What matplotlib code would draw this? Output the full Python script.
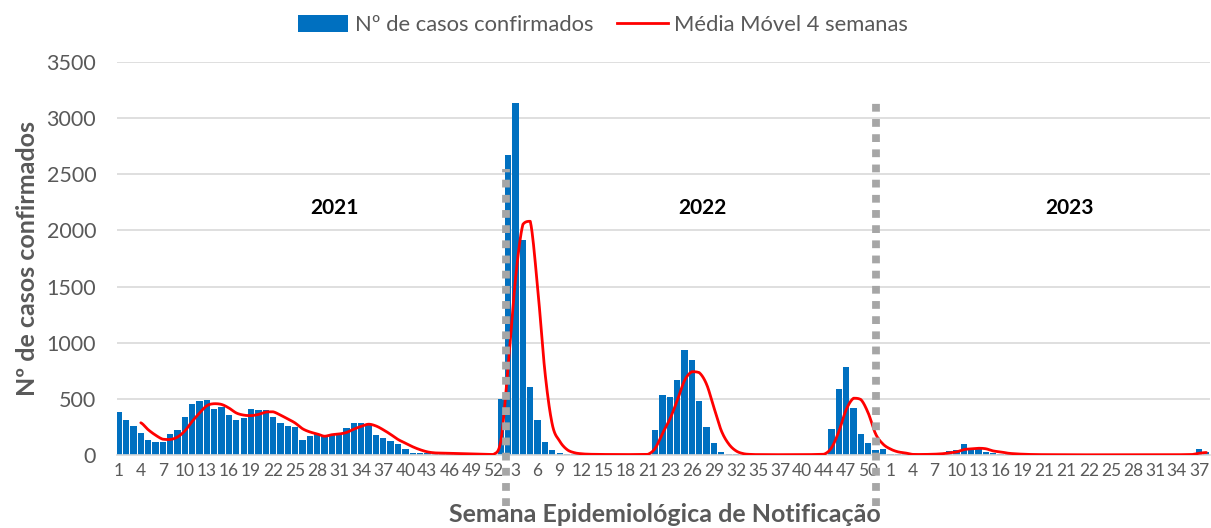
import numpy as np
import pandas as pd
import matplotlib
matplotlib.use("Agg")
import matplotlib.pyplot as plt
from matplotlib.lines import Line2D
from matplotlib.patches import Patch

# ---------------- data ----------------
cases_2021 = [382, 312, 257, 197, 136, 118, 112, 185, 227, 336, 452, 482, 488,
              406, 424, 355, 312, 330, 406, 397, 397, 339, 288, 261, 252, 136,
              173, 190, 170, 190, 199, 244, 289, 289, 275, 182, 152, 125, 95,
              51, 22, 21, 18, 15, 14, 14, 12, 10, 8, 5, 3, 2]
cases_2022 = [500, 2670, 3135, 1913, 607, 311, 119, 45, 20, 10, 7, 6, 5, 5, 4,
              4, 4, 4, 5, 6, 8, 220, 537, 513, 672, 935, 847, 479, 253, 103, 30,
              9, 5, 4, 3, 3, 3, 3, 3, 3, 3, 4, 5, 8, 12, 235, 588, 784, 416, 184,
              104, 45]
cases_2023 = [57, 8, 5, 5, 5, 4, 8, 12, 20, 33, 45, 95, 45, 55, 27, 18, 12, 8, 5,
              4, 3, 3, 3, 3, 2, 2, 2, 2, 2, 2, 2, 2, 2, 2, 2, 2, 2, 2, 3, 3, 3,
              4, 5, 50, 30]

tick_labels = ["1", "4", "7", "10", "13", "16", "19", "22", "25", "28", "31",
               "34", "37", "40", "43", "46", "49", "52",
               "3", "6", "9", "12", "15", "18", "21", "23", "26", "29", "32",
               "35", "37", "40", "44", "47", "50",
               "1", "4", "7", "10", "13", "16", "19", "21", "21", "22", "25",
               "28", "31", "34", "37"]
years = ["2021", "2022", "2023"]
year_x = [29.3, 79.4, 129.4]
year_y = 2200
# year separators (position, bottom, top)
sep_x = [52.7, 103.1]
sep_top = [2550, 3160]
sep_bottom = -450

series_bar = "Nº de casos confirmados"
series_line = "Média Móvel 4 semanas"

# ---------------- derived ----------------
cases = np.array(cases_2021 + cases_2022 + cases_2023, dtype=float)
xpos = np.arange(len(cases))
ma = pd.Series(cases).rolling(4).mean().to_numpy()


def smooth_curve(xs, ys, n=16):
    """Excel-like smoothed line (Bezier through points, limited overshoot)."""
    px = np.concatenate([[2 * xs[0] - xs[1]], xs, [2 * xs[-1] - xs[-2]]])
    py = np.concatenate([[ys[0]], ys, [ys[-1]]])
    ox, oy = [], []
    t = np.linspace(0, 1, n, endpoint=False)
    for i in range(1, len(px) - 2):
        x0, x1, x2, x3 = px[i - 1:i + 3]
        y0, y1, y2, y3 = py[i - 1:i + 3]
        cx1, cx2 = x1 + (x2 - x0) / 6, x2 - (x3 - x1) / 6
        cy1, cy2 = y1 + (y2 - y0) / 6, y2 - (y3 - y1) / 6
        lo, hi = min(y1, y2), max(y1, y2)
        cy1, cy2 = np.clip(cy1, lo, hi), np.clip(cy2, lo, hi)
        b = [(1 - t) ** 3, 3 * (1 - t) ** 2 * t, 3 * (1 - t) * t ** 2, t ** 3]
        ox.extend(b[0] * x1 + b[1] * cx1 + b[2] * cx2 + b[3] * x2)
        oy.extend(b[0] * y1 + b[1] * cy1 + b[2] * cy2 + b[3] * y2)
    ox.append(xs[-1])
    oy.append(ys[-1])
    return np.array(ox), np.array(oy)


valid = ~np.isnan(ma)
sx, sy = smooth_curve(xpos[valid].astype(float), ma[valid])

# ---------------- plot ----------------
FONT = "Lato"
GRAY = "#595959"
plt.rcParams["font.family"] = [FONT, "DejaVu Sans"]

W, H = 1211, 528
fig = plt.figure(figsize=(W / 100, H / 100), dpi=100)
ax = fig.add_axes([117 / W, (H - 455) / H, (1210 - 117) / W, (455 - 62) / H])

ax.bar(xpos, cases, width=0.86, color="#0070C0", zorder=2)
ax.plot(sx, sy, color="#FF0000", lw=2.0, zorder=4, solid_capstyle="round")

for xs_, top in zip(sep_x, sep_top):
    ax.plot([xs_, xs_], [sep_bottom, top], color="#A6A6A6", lw=5.6,
            linestyle=(0, (1.0, 0.95)), dash_capstyle="butt", zorder=5,
            clip_on=False)

for yr, xx in zip(years, year_x):
    ax.text(xx, year_y, yr, ha="center", va="center", fontsize=15,
            fontweight="bold", color="black")

ax.set_xlim(-0.24, 148.5)
ax.set_ylim(0, 3500)
ax.set_yticks(np.arange(0, 3501, 500))
ax.set_xticks(np.arange(0, 3 * len(tick_labels), 3))
ax.set_xticklabels(tick_labels)
ax.tick_params(axis="x", length=0, labelsize=12.5, labelcolor=GRAY, pad=6)
ax.tick_params(axis="y", length=0, labelsize=15.5, labelcolor=GRAY, pad=15)
ax.grid(axis="y", color="#D9D9D9", lw=1.2, zorder=0)
ax.set_axisbelow(True)
for s in ["top", "right", "left"]:
    ax.spines[s].set_visible(False)
ax.spines["bottom"].set_color("#D9D9D9")
ax.spines["bottom"].set_linewidth(1.2)

ax.set_ylabel(series_bar, fontsize=18, fontweight="bold", color=GRAY,
              labelpad=8)
ax.yaxis.set_label_coords(-(117 - 28) / (1210 - 117), 0.5)
ax.set_xlabel("Semana Epidemiológica de Notificação", fontsize=18,
              fontweight="bold", color=GRAY)
ax.xaxis.set_label_coords((665 - 117) / (1210 - 117), -(515 - 455) / (455 - 62))
ax.xaxis.label.set_va("center")
ax.yaxis.label.set_va("center")

handles = [Patch(facecolor="#0070C0", edgecolor="none"),
           Line2D([0], [0], color="#FF0000", lw=2)]
fig.legend(handles, [series_bar, series_line], loc="center",
           bbox_to_anchor=(603 / W, 1 - 25 / H), ncol=2, frameon=False,
           fontsize=15.8, handlelength=2.3, handleheight=0.85,
           columnspacing=1.1, handletextpad=0.3, labelcolor=GRAY)

fig.savefig("out.png", dpi=100)
